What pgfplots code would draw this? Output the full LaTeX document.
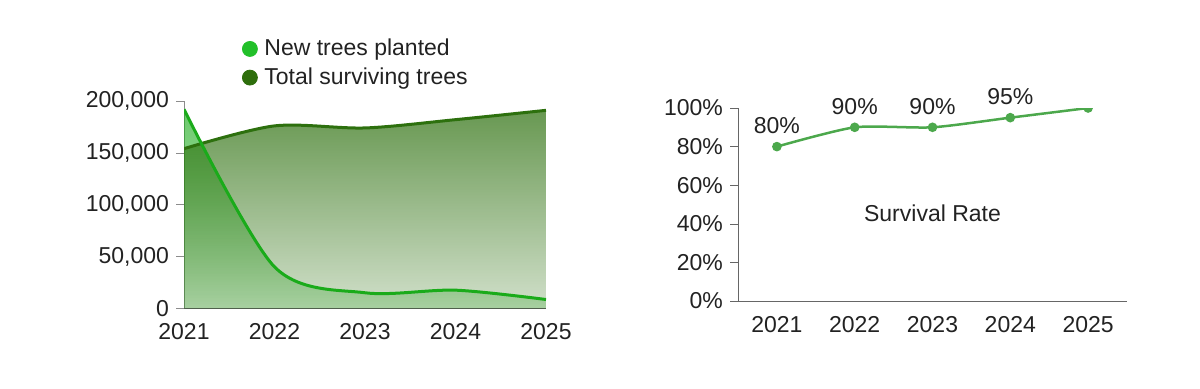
\documentclass[border=0pt]{standalone}
\usepackage{fontspec}
\setmainfont{Liberation Sans}
\usepackage{pgfplots}
\usepackage{pgfplotstable}
\pgfplotsset{compat=1.18}
\usetikzlibrary{fadings}
\definecolor{newline}{RGB}{26,171,26}
\definecolor{newleg}{RGB}{34,192,42}
\definecolor{totline}{RGB}{45,112,14}
\definecolor{totleg}{RGB}{46,110,12}
\definecolor{rate}{RGB}{76,168,76}
\definecolor{txt}{RGB}{34,34,34}
\tikzfading[name=fadenew, top color=transparent!35, bottom color=transparent!77]
\tikzfading[name=fadetot, top color=transparent!28, bottom color=transparent!78]

\pgfplotstableread{
x new total
0 192000 154000
1 40000 176000
2 15000 174000
3 17500 182000
4 8500 191000
}\treesdata
\pgfplotstableread{
x rate
0 80
1 90
2 90
3 95
4 100
}\ratedata

\begin{document}
\begin{tikzpicture}[font=\fontsize{11.5}{13.5}\selectfont, x=1pt, y=1pt]
\useasboundingbox (0,0) rectangle (600,194);
\begin{axis}[
  at={(92pt,39.85pt)}, anchor=south west,
  scale only axis, width=181pt, height=103.65pt,
  xmin=0, xmax=4, ymin=0, ymax=200000,
  axis x line*=bottom, axis y line*=left,
  x axis line style={-, draw=black!65},
  y axis line style={-, draw=black!45},
  xtick={0,1,2,3,4}, xticklabels={2021,2022,2023,2024,2025},
  xtick style={draw=none},
  ytick={0,50000,100000,150000,200000},
  yticklabels={0,{50,000},{100,000},{150,000},{200,000}},
  ytick style={draw=black!45},
  tick align=outside, major tick length=4pt,
  scaled y ticks=false,
  ticklabel style={text=txt, font=\fontsize{11.5}{13.5}\selectfont},
  legend style={at={(0.478,1.025)}, anchor=south, draw=none, fill=none,
    legend cell align=left, font=\fontsize{11.5}{13.5}\selectfont, text=txt,
    row sep=0.5pt, /tikz/every odd column/.append style={column sep=1.5pt}},
]
\addlegendimage{only marks, mark=*, mark size=3.75pt, color=newleg}
\addlegendentry{New trees planted}
\addlegendimage{only marks, mark=*, mark size=3.75pt, color=totleg}
\addlegendentry{Total surviving trees}
\addplot[draw=none, fill=newline, path fading=fadenew, smooth, tension=0.5, forget plot]
  table[x=x, y=new]{\treesdata} \closedcycle;
\addplot[draw=none, fill=totline, path fading=fadetot, smooth, tension=0.5, forget plot]
  table[x=x, y=total]{\treesdata} \closedcycle;
\addplot[totline, line width=1.5pt, smooth, tension=0.5, forget plot]
  table[x=x, y=total]{\treesdata};
\addplot[newline, line width=1.5pt, smooth, tension=0.5, forget plot]
  table[x=x, y=new]{\treesdata};
\end{axis}

\begin{axis}[
  at={(369pt,43.5pt)}, anchor=south west,
  scale only axis, width=194.5pt, height=96.5pt,
  xmin=-0.5, xmax=4.5, ymin=0, ymax=100,
  axis x line*=bottom, axis y line*=left,
  axis line style={-, draw=black!60},
  xtick={0,1,2,3,4}, xticklabels={2021,2022,2023,2024,2025},
  xtick style={draw=none},
  ytick={0,20,40,60,80,100},
  yticklabels={0\%,20\%,40\%,60\%,80\%,100\%},
  ytick style={draw=black!60},
  tick align=outside, major tick length=4pt,
  ticklabel style={text=txt, font=\fontsize{11.5}{13.5}\selectfont},
  clip mode=individual,
  /pgf/number format/assume math mode=true,
]
\addplot[rate, line width=1.25pt, smooth, tension=0.4, mark=*, mark size=1.75pt, clip marker paths=true]
  table[x=x, y=rate]{\ratedata};
\addplot[draw=none, clip=false, nodes near coords={\pgfmathprintnumber{\pgfplotspointmeta}\%},
  nodes near coords style={font=\fontsize{11.5}{13.5}\selectfont, anchor=south, yshift=3pt, text=txt},
  point meta=y] coordinates {(0,80) (1,90) (2,90) (3,95)};
\node[text=txt, font=\fontsize{11.5}{13.5}\selectfont] at (rel axis cs:0.5,0.456) {Survival Rate};
\end{axis}
\end{tikzpicture}
\end{document}
